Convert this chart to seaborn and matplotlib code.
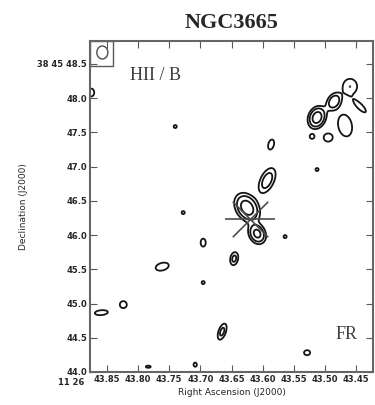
import numpy as np
import pandas as pd
import matplotlib
matplotlib.use("Agg")
import matplotlib.pyplot as plt
from matplotlib.patches import Ellipse, Rectangle
import seaborn as sns

# Emission components of the radio map: position (RA seconds past 11h26m, Dec arcsec
# past +38d45'), Gaussian widths (s of time, arcsec), RA/Dec correlation and peak (noise units)
comp_ra = [43.6249, 43.6088, 43.5928, 43.5864, 43.6457, 43.7276, 43.5639, 43.6955,
           43.6955, 43.5126, 43.7613, 43.8238, 43.8591, 43.6650, 43.5286, 43.7837,
           43.7083, 43.7404, 43.8752, 43.5126, 43.4853, 43.4596, 43.4436, 43.4676,
           43.5206, 43.4949]
comp_dec = [46.400, 46.020, 46.797, 47.323, 45.656, 46.329, 45.978, 45.890,
            45.306, 46.958, 45.539, 44.984, 44.867, 44.589, 44.282, 44.077,
            44.107, 47.586, 48.083, 47.718, 47.952, 48.171, 47.879, 47.601,
            47.440, 47.425]
comp_sig_ra = [0.01100, 0.00800, 0.00915, 0.00449, 0.00481, 0.00337, 0.00337, 0.00449,
               0.00337, 0.00337, 0.00963, 0.00513, 0.00963, 0.00530, 0.00449, 0.00481,
               0.00321, 0.00337, 0.00481, 0.00802, 0.00754, 0.00963, 0.00963, 0.01043,
               0.00401, 0.00642]
comp_sig_dec = [0.1150, 0.0850, 0.1228, 0.0673, 0.0702, 0.0307, 0.0307, 0.0643,
                0.0307, 0.0307, 0.0541, 0.0468, 0.0336, 0.0863, 0.0336, 0.0190,
                0.0366, 0.0307, 0.0585, 0.0892, 0.0789, 0.0950, 0.0877, 0.1462,
                0.0366, 0.0541]
comp_rho = [0.3, 0.2, -0.5, -0.3, -0.2, 0.0, 0.0, 0.0,
            0.0, 0.0, -0.3, 0.0, -0.2, -0.5, 0.0, 0.0,
            0.0, 0.0, 0.0, -0.2, -0.3, 0.0, 0.8, 0.2,
            0.0, 0.0]
comp_peak = [6.0, 5.0, 3.0, 1.8, 2.5, 1.3, 1.3, 1.5,
             1.3, 1.3, 1.8, 1.8, 1.8, 2.5, 1.8, 1.4,
             1.4, 1.3, 1.6, 6.0, 3.5, 2.0, 1.6, 1.8,
             1.5, 1.8]
contour_levels = [1.0, 2.0, 4.0]

# Optical nucleus position
nucleus_ra = [43.6201]
nucleus_dec = [46.241]

# Restoring beam (RA width in s, Dec height in arcsec) and its centre
beam_ra, beam_dec = 43.8575, 48.668
beam_w, beam_h = 0.0177, 0.19

x_ticks = [43.85, 43.80, 43.75, 43.70, 43.65, 43.60, 43.55, 43.50, 43.45]
x_labels = ["43.85", "43.80", "43.75", "43.70", "43.65", "43.60", "43.55", "43.50", "43.45"]
y_ticks = [48.5, 48.0, 47.5, 47.0, 46.5, 46.0, 45.5, 45.0, 44.5, 44.0]
y_labels = ["38 45 48.5", "48.0", "47.5", "47.0", "46.5", "46.0", "45.5", "45.0", "44.5", "44.0"]

ra_lo, ra_hi = 43.4227, 43.8773
dec_lo, dec_hi = 44.0, 48.836

comps = pd.DataFrame({"ra": comp_ra, "dec": comp_dec, "sra": comp_sig_ra,
                      "sdec": comp_sig_dec, "rho": comp_rho, "peak": comp_peak})

sns.set_theme(style="ticks")
plt.rcParams["font.family"] = ["DejaVu Sans"]

fig = plt.figure(figsize=(3.75, 4.05), dpi=100)
ax = fig.add_axes([0.24, 0.0815, 0.7547, 0.8173])

# Build the intensity map as a sum of elliptical Gaussians
ra_grid = np.linspace(ra_lo - 0.01, ra_hi + 0.01, 700)
dec_grid = np.linspace(dec_lo - 0.1, dec_hi + 0.1, 800)
RA, DEC = np.meshgrid(ra_grid, dec_grid)
field = np.zeros_like(RA)
for c in comps.itertuples():
    u = (RA - c.ra) / c.sra
    v = (DEC - c.dec) / c.sdec
    q = (u * u - 2 * c.rho * u * v + v * v) / (1 - c.rho ** 2)
    field += c.peak * np.exp(-0.5 * q)

ax.contour(RA, DEC, field, levels=contour_levels, colors="0.08", linewidths=1.3)

# Nucleus marker: horizontal bar plus diagonal cross
nuc = pd.DataFrame({"ra": nucleus_ra, "dec": nucleus_dec})
sns.scatterplot(data=nuc, x="ra", y="dec", marker="_", s=1300, color="0.3",
                linewidth=1.2, ax=ax, legend=False, zorder=3)
sns.scatterplot(data=nuc, x="ra", y="dec", marker="x", s=650, color="0.3",
                linewidth=1.2, ax=ax, legend=False, zorder=3)

# Beam in the top-left corner
ax.add_patch(Rectangle((0, 0.925), 0.081, 0.075, transform=ax.transAxes,
                       fill=False, edgecolor="0.35", linewidth=1.0))
ax.add_patch(Ellipse((beam_ra, beam_dec), beam_w, beam_h, fill=False,
                     edgecolor="0.3", linewidth=1.0))

ax.set_xlim(ra_hi, ra_lo)
ax.set_ylim(dec_lo, dec_hi)
ax.set_xticks(x_ticks)
ax.set_xticklabels(x_labels)
ax.set_yticks(y_ticks)
ax.set_yticklabels(y_labels)
ax.tick_params(direction="in", length=5, width=0.8, top=True, right=True,
               labelsize=6, pad=2, color="0.35")
for lab in ax.get_xticklabels() + ax.get_yticklabels():
    lab.set_fontweight("bold")
ax.text(-0.02, -0.033, "11 26", transform=ax.transAxes, ha="right", va="center",
        fontsize=6, fontweight="bold")

for sp in ax.spines.values():
    sp.set_color("0.4")
    sp.set_linewidth(1.5)

ax.set_xlabel("Right Ascension (J2000)", fontsize=6.5, labelpad=3)
ax.set_ylabel("Declination (J2000)", fontsize=6.5, labelpad=7)
ax.set_title("NGC3665", fontsize=16, fontweight="bold", family="Liberation Serif", pad=9)

ax.text(0.141, 0.897, "HII / B", transform=ax.transAxes, fontsize=13,
        family="Liberation Serif", color="0.25", va="center", ha="left")
ax.text(0.866, 0.112, "FR", transform=ax.transAxes, fontsize=13,
        family="Liberation Serif", color="0.25", va="center", ha="left")

fig.savefig("out.png", dpi=100)
